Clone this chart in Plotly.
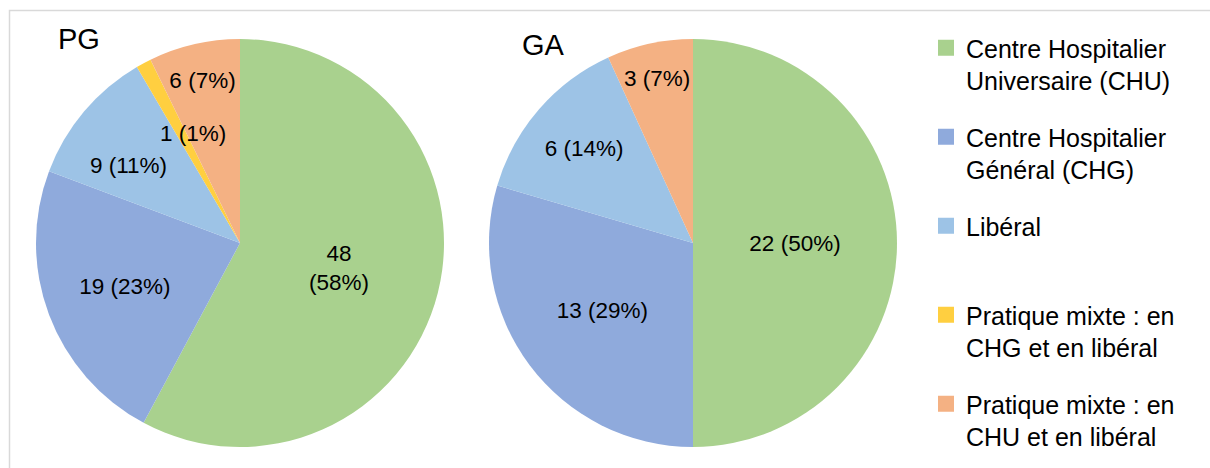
import plotly.graph_objects as go

W, H = 1210, 468

categories = [
    "Centre Hospitalier<br>Universaire (CHU)",
    "Centre Hospitalier<br>Général (CHG)",
    "Libéral<br> ",
    "Pratique mixte : en<br>CHG et en libéral",
    "Pratique mixte : en<br>CHU et en libéral",
]
colors = ["#A9D18E", "#8FAADC", "#9DC3E6", "#FFCF40", "#F4B183"]

pg_values = [48, 19, 9, 1, 6]
pg_labels = ["48<br>(58%)", "19 (23%)", "9 (11%)", "1 (1%)", "6 (7%)"]

ga_values = [22, 13, 6, 0, 3]
ga_labels = ["22 (50%)", "13 (29%)", "6 (14%)", "", "3 (7%)"]

FONT = "Liberation Sans, Arial, sans-serif"


def px_x(p):
    return p / W


def px_y(p):
    return 1 - p / H


def pie_domain(cx, cy, r):
    return dict(x=[px_x(cx - r), px_x(cx + r)], y=[px_y(cy + r), px_y(cy - r)])


fig = go.Figure()

# labels of the two thin PG slices are drawn on top of the pie (as in the original)
pg_textpos = ["inside", "inside", "none", "none", "inside"]
ga_textpos = ["inside"] * 5

for vals, labs, tpos, dom in [
    (pg_values, pg_labels, pg_textpos, pie_domain(240, 243, 204)),
    (ga_values, ga_labels, ga_textpos, pie_domain(693, 243, 204)),
]:
    fig.add_trace(go.Pie(
        labels=categories,
        values=vals,
        text=labs,
        textinfo="text",
        textposition=tpos,
        insidetextorientation="horizontal",
        textfont=dict(size=22.5, color="#000000", family=FONT),
        marker=dict(colors=colors, line=dict(width=0)),
        sort=False,
        direction="clockwise",
        rotation=0,
        domain=dom,
        showlegend=False,
        hoverinfo="label+value+percent",
    ))

for idx, (lx, ly) in [(2, (128, 165)), (3, (193, 133))]:
    fig.add_annotation(text=pg_labels[idx], x=px_x(lx), y=px_y(ly), xref="paper", yref="paper",
                       xanchor="center", yanchor="middle", showarrow=False,
                       font=dict(size=22.5, color="#000000", family=FONT))

# legend entries
for i, (cat, col) in enumerate(zip(categories, colors)):
    fig.add_trace(go.Scatter(
        x=[None], y=[None], mode="markers",
        marker=dict(symbol="square", size=16, color=col),
        name=cat, legendgroup=f"g{i}", showlegend=True,
    ))

fig.add_annotation(text="PG", x=px_x(56), y=px_y(39), xref="paper", yref="paper",
                   xanchor="left", yanchor="middle", showarrow=False,
                   font=dict(size=29, color="#000000", family=FONT))
fig.add_annotation(text="GA", x=px_x(520), y=px_y(45), xref="paper", yref="paper",
                   xanchor="left", yanchor="middle", showarrow=False,
                   font=dict(size=29, color="#000000", family=FONT))

fig.add_shape(type="rect", xref="paper", yref="paper",
              x0=px_x(9.5), y0=px_y(10.5), x1=1.05, y1=-0.05,
              line=dict(color="#D9D9D9", width=1.5), fillcolor="rgba(0,0,0,0)")

fig.update_layout(
    width=W, height=H,
    margin=dict(l=0, r=0, t=0, b=0, pad=0),
    paper_bgcolor="white", plot_bgcolor="white",
    xaxis=dict(visible=False), yaxis=dict(visible=False),
    uniformtext=dict(minsize=22, mode="show"),
    legend=dict(
        x=px_x(926), y=px_y(25), xanchor="left", yanchor="top",
        font=dict(size=25, color="#000000", family=FONT),
        valign="top", itemsizing="trace", traceorder="grouped",
        tracegroupgap=21, bgcolor="rgba(0,0,0,0)",
    ),
    font=dict(family=FONT),
)

fig.write_html("out.html")
